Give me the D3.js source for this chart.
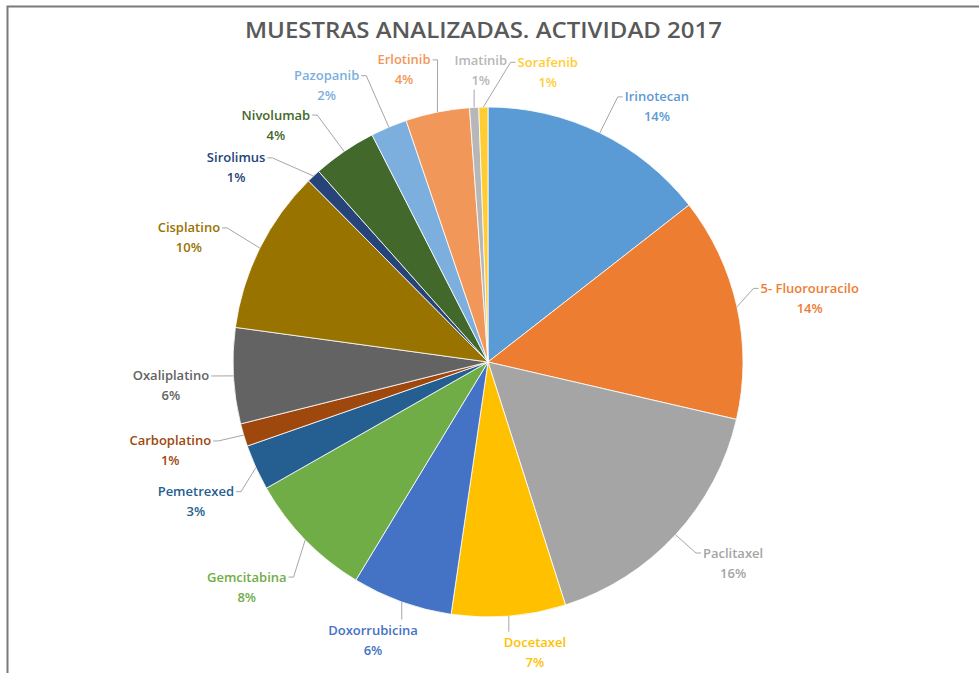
<!DOCTYPE html>
<html>
<head>
<meta charset="utf-8">
<script src="https://cdn.jsdelivr.net/npm/d3@7"></script>
<style>
  html, body { margin: 0; padding: 0; background: #fff; }
  svg { display: block; }
</style>
</head>
<body>
<svg id="chart" width="979" height="673"></svg>
<script>
// Samples analysed per drug, 2017 (counts)
const drugs = [
  "Irinotecan", "5- Fluorouracilo", "Paclitaxel", "Docetaxel", "Doxorrubicina",
  "Gemcitabina", "Pemetrexed", "Carboplatino", "Oxaliplatino", "Cisplatino",
  "Sirolimus", "Nivolumab", "Pazopanib", "Erlotinib", "Imatinib", "Sorafenib"
];
const samples = [50, 49, 57, 25, 22, 28, 10, 5, 21, 36, 3, 14, 8, 14, 2, 2];
const sliceColors = [
  "#5B9BD5", "#ED7D31", "#A5A5A5", "#FFC000", "#4472C4",
  "#70AD47", "#255E91", "#9E480E", "#636363", "#997300",
  "#264478", "#43682B", "#7CAFDD", "#F1975A", "#B7B7B7", "#FFCD33"
];
const chartTitle = "MUESTRAS ANALIZADAS. ACTIVIDAD 2017";

// Label placement: angular shift (degrees) from the slice middle, and radius as a multiple of the pie radius
const labelShift = [
  [7.5, 1.20], [1.3, 1.286], [-3.3, 1.243], [-4.5, 1.153], [2.7, 1.18],
  [1.2, 1.294], [-1.1, 1.27], [1.0, 1.294], [-1.2, 1.247], [-4.0, 1.27],
  [-9.2, 1.247], [-7.5, 1.247], [-7.4, 1.255], [-4.6, 1.192], [1.7, 1.145], [12.7, 1.16]
];

const W = 979, H = 673;
const cx = 488, cy = 362, R = 255;
const svg = d3.select("#chart");

svg.append("rect").attr("width", W).attr("height", H).attr("fill", "#fff");

// frame (top and left edges)
svg.append("path")
  .attr("d", `M${W},6.5 H7.5 V${H}`)
  .attr("fill", "none")
  .attr("stroke", "#7a7a7a")
  .attr("stroke-width", 2);

// title
svg.append("text")
  .attr("x", 483.5).attr("y", 37.5)
  .attr("text-anchor", "middle")
  .attr("font-family", "'Open Sans', 'Liberation Sans', sans-serif")
  .attr("font-size", 21.5)
  .attr("font-weight", 600)
  .attr("fill", "#595959")
  .attr("textLength", 477)
  .attr("lengthAdjust", "spacingAndGlyphs")
  .text(chartTitle);

const rows = drugs.map((d, i) => ({ name: d, value: samples[i], color: sliceColors[i], shift: labelShift[i] }));
const total = d3.sum(samples);
const pct = d3.format(".0%");

const pie = d3.pie().value(d => d.value).sort(null);
const arcs = pie(rows);
const arc = d3.arc().innerRadius(0).outerRadius(R);

const g = svg.append("g").attr("transform", `translate(${cx},${cy})`);

g.selectAll("path.slice")
  .data(arcs)
  .join("path")
  .attr("class", "slice")
  .attr("d", arc)
  .attr("fill", d => d.data.color)
  .attr("stroke", "#fff")
  .attr("stroke-width", 0.8);

// polar helper (0 rad = 12 o'clock, clockwise)
const polar = (a, r) => [r * Math.sin(a), -r * Math.cos(a)];

const lineH = 20;
const labelG = g.append("g");

arcs.forEach(d => {
  const mid = (d.startAngle + d.endAngle) / 2;
  const a = mid + d.data.shift[0] * Math.PI / 180;
  const [lx, ly] = polar(a, R * d.data.shift[1]);

  const t = labelG.append("text")
    .attr("text-anchor", "middle")
    .attr("font-family", "'Open Sans', 'Liberation Sans', sans-serif")
    .attr("font-size", 13)
    .attr("font-weight", 600)
    .attr("fill", d.data.color);
  t.append("tspan").attr("x", lx).attr("y", ly - lineH / 2 + 4.5).text(d.data.name);
  t.append("tspan").attr("x", lx).attr("y", ly + lineH / 2 + 4.5).text(pct(d.data.value / total));

  // leader line from the slice edge to the nearest side of the label block
  const bb = t.node().getBBox();
  const [sx, sy] = polar(mid, R);
  const nameMid = ly - lineH / 2;
  let ex, ey, elbow;
  if (sx < bb.x) {
    ex = bb.x - 2; ey = nameMid; elbow = [ex - 5, ey];
  } else if (sx > bb.x + bb.width) {
    ex = bb.x + bb.width + 2; ey = nameMid; elbow = [ex + 5, ey];
  } else {
    ex = sx; ey = sy > bb.y + bb.height ? bb.y + bb.height + 1 : bb.y - 1; elbow = [ex, ey];
  }
  labelG.insert("path", "text")
    .attr("d", d3.line()([[sx, sy], elbow, [ex, ey]]))
    .attr("fill", "none")
    .attr("stroke", "#a6a6a6")
    .attr("stroke-width", 1);
});
</script>
</body>
</html>
